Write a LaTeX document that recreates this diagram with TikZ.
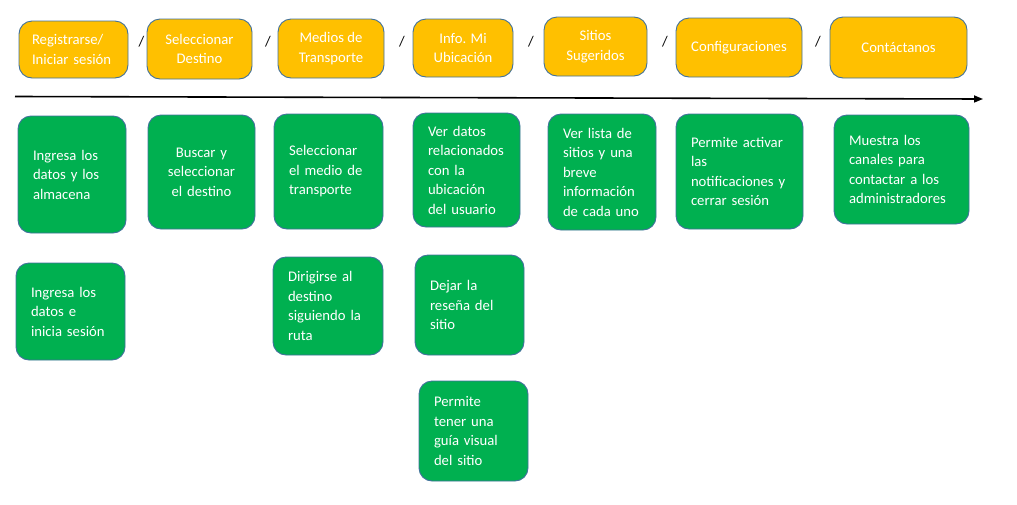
\documentclass[tikz,border=0pt]{standalone}
\usepackage{fontspec}
\setmainfont{Carlito}
\usetikzlibrary{arrows.meta}
\definecolor{topfill}{HTML}{FFC000}
\definecolor{stepfill}{HTML}{00B050}
\definecolor{boxline}{HTML}{41719C}

\begin{document}
\begin{tikzpicture}[
        x=1pt, y=-1pt,
        font=\fontsize{14.7}{19.5}\selectfont,
        box/.style={rectangle, rounded corners=13pt, draw=boxline, line width=0.9pt, text=white, inner ysep=0pt},
        topbox/.style={box, fill=topfill, align=center, inner xsep=4pt},
        stepbox/.style={box, fill=stepfill, align=left, inner xsep=15pt},
        sep/.style={text=black, inner sep=0pt},
        arrow/.style={line width=1.6pt, -{Triangle[length=9pt, width=7pt]}}
    ]
        \useasboundingbox (0,0) rectangle (1017,504);

        % menu
        \node (t1) [topbox, align=left, inner xsep=13pt, text width=83pt, minimum height=57pt] at (73.5,49.5) {Registrarse/\\Iniciar sesión};
        \node (t2) [topbox, minimum width=105pt, minimum height=60pt] at (199.5,49) {Seleccionar\\Destino};
        \node (t3) [topbox, minimum width=106pt, minimum height=59pt] at (331,48.5) {Medios de\\Transporte};
        \node (t4) [topbox, minimum width=100pt, minimum height=58pt] at (463,48) {Info. Mi\\Ubicación};
        \node (t5) [topbox, minimum width=103pt, minimum height=59pt] at (595.5,46.5) {Sitios\\Sugeridos};
        \node (t6) [topbox, minimum width=126pt, minimum height=59pt] at (739,47.5) {Configuraciones};
        \node (t7) [topbox, minimum width=137pt, minimum height=61pt] at (898.5,47.5) {Contáctanos};

        \node (s1) [sep] at (141.5,42) {/};
        \node (s2) [sep] at (268,42) {/};
        \node (s3) [sep] at (402,42) {/};
        \node (s4) [sep] at (531,42) {/};
        \node (s5) [sep] at (665,42) {/};
        \node (s6) [sep] at (818,42) {/};

        % timeline
        \coordinate (start) at (15,96.5);
        \coordinate (end) at (983,99);
        \draw[arrow] (start) -- (end);

        % first row
        \node (a1) [stepbox, text width=78pt, minimum height=117pt] at (72,174.5) {Ingresa los\\datos y los\\almacena};
        \node (a2) [stepbox, align=center, text width=77pt, minimum height=114pt] at (201.5,172) {Buscar y\\seleccionar\\el destino};
        \node (a3) [stepbox, text width=79pt, minimum height=115pt] at (328.5,171.5) {Seleccionar\\el medio de\\transporte};
        \node (a4) [stepbox, text width=77pt, minimum height=114pt] at (466.5,170) {Ver datos\\relacionados\\con la\\ubicación\\del usuario};
        \node (a5) [stepbox, text width=78pt, minimum height=116pt] at (602,172) {Ver lista de\\sitios y una\\breve\\información\\de cada uno};
        \node (a6) [stepbox, text width=97pt, minimum height=115pt] at (739.5,171.5) {Permite activar\\las\\notificaciones y\\cerrar sesión};
        \node (a7) [stepbox, text width=105pt, minimum height=109pt] at (901.5,169.5) {Muestra los\\canales para\\contactar a los\\administradores};

        % second row
        \node (b1) [stepbox, text width=79pt, minimum height=97pt] at (70.5,311.5) {Ingresa los\\datos e\\inicia sesión};
        \node (b3) [stepbox, text width=80pt, minimum height=98pt] at (328,306) {Dirigirse al\\destino\\siguiendo la\\ruta};
        \node (b4) [stepbox, text width=79pt, minimum height=100pt] at (469.5,305) {Dejar la\\reseña del\\sitio};

        % third row
        \node (c4) [stepbox, text width=79pt, minimum height=100pt] at (473.5,431) {Permite\\tener una\\guía visual\\del sitio};
    \end{tikzpicture}
\end{document}
